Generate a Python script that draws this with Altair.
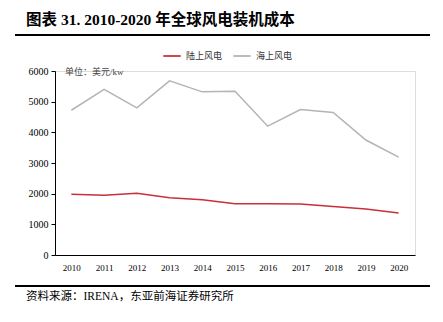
import altair as alt
import pandas as pd

years = [str(y) for y in range(2010, 2021)]
onshore = [1980, 1950, 2015, 1870, 1800, 1670, 1670, 1660, 1580, 1500, 1370]
offshore = [4720, 5400, 4800, 5680, 5320, 5340, 4200, 4745, 4650, 3750, 3190]
series_names = ["陆上风电", "海上风电"]
series_colors = ["#C9303A", "#B4B4B4"]
y_ticks = [0, 1000, 2000, 3000, 4000, 5000, 6000]

df = pd.DataFrame({
    "year": years * 2,
    "cost": onshore + offshore,
    "series": [series_names[0]] * len(years) + [series_names[1]] * len(years),
})

FONT = "Liberation Serif, Times New Roman, Noto Sans CJK SC"
W, H = 360, 184

lines = alt.Chart(df).mark_line(strokeWidth=1.5, clip=False).encode(
    x=alt.X("year:O", scale=alt.Scale(type="point", padding=0.5),
            axis=alt.Axis(title=None, labelAngle=0, ticks=False, domainColor="#000000",
                          labelFont=FONT, labelFontSize=9, labelColor="#000000", labelPadding=8)),
    y=alt.Y("cost:Q", scale=alt.Scale(domain=[0, 6000], nice=False),
            axis=alt.Axis(title=None, values=y_ticks, format="d", grid=False, domainColor="#000000",
                          tickColor="#000000", tickSize=4, labelFont=FONT, labelFontSize=10,
                          labelColor="#000000", labelPadding=3)),
    color=alt.Color("series:N", scale=alt.Scale(domain=series_names, range=series_colors),
                    legend=alt.Legend(title=None, orient="none", legendX=107, legendY=-25,
                                      direction="horizontal", symbolType="stroke",
                                      symbolSize=300, symbolStrokeWidth=1.8,
                                      labelFont=FONT, labelFontSize=9, labelColor="#333333",
                                      columnPadding=6, symbolOffset=0)),
    order=alt.Order("year:O"),
)

unit = alt.Chart(pd.DataFrame({"t": ["单位：美元/kw"]})).mark_text(
    align="left", baseline="middle", font=FONT, fontSize=9, color="#444444"
).encode(text="t:N", x=alt.value(10), y=alt.value(1))

title = alt.Chart(pd.DataFrame({"t": ["图表 31. 2010-2020 年全球风电装机成本"]})).mark_text(
    align="left", baseline="middle", font=FONT, fontSize=15.5, fontWeight="bold", color="#000000"
).encode(text="t:N", x=alt.value(-29), y=alt.value(-51))

source = alt.Chart(pd.DataFrame({"t": ["资料来源：IRENA，东亚前海证券研究所"]})).mark_text(
    align="left", baseline="middle", font=FONT, fontSize=11.5, color="#000000"
).encode(text="t:N", x=alt.value(-29), y=alt.value(42 + H))

rule_top = alt.Chart(pd.DataFrame({"a": [0]})).mark_rule(color="#000000", strokeWidth=2).encode(
    x=alt.value(-40), x2=alt.value(375), y=alt.value(-36))
rule_bot = alt.Chart(pd.DataFrame({"a": [0]})).mark_rule(color="#000000", strokeWidth=2).encode(
    x=alt.value(-40), x2=alt.value(375), y=alt.value(31 + H))

chart = alt.layer(lines, unit, title, source, rule_top, rule_bot).properties(
    width=W, height=H,
    autosize=alt.AutoSizeParams(type="none"),
    padding={"left": 55, "top": 71, "right": 28, "bottom": 67},
).configure_view(stroke=None).configure(background="white")

chart.save("out.html", embed_options={"renderer": "svg", "actions": False})
